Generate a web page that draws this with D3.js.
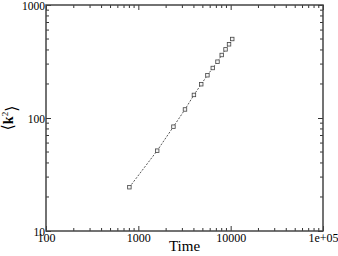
<!DOCTYPE html>
<meta charset="utf-8">
<head>
<title>k2 vs time</title>
<script src="https://d3js.org/d3.v7.min.js"></script>
<style>
  body { margin: 0; background: #fff; }
  text { font-family: "Liberation Serif", "DejaVu Serif", serif; fill: #000; }
</style>
</head>
<body>
<svg></svg>
<script>
// data
var times = [800, 1600, 2400, 3200, 4000, 4800, 5600, 6400, 7200, 8000, 8800, 9600, 10400];
var k2 = [24.4, 51.4, 83.8, 119, 160, 199, 239, 277, 315, 361, 405, 449, 500];
var xTicks = [100, 1000, 10000, 100000];
var xTickLabels = ["100", "1000", "10000", "1e+05"];
var yTicks = [10, 100, 1000];
var yTickLabels = ["10", "100", "1000"];

var W = 338, H = 256;
var margin = {top: 5, right: 15, bottom: 25, left: 46};
var width = W - margin.left - margin.right;
var height = H - margin.top - margin.bottom;

var x = d3.scaleLog().domain([100, 100000]).range([0, width]);
var y = d3.scaleLog().domain([10, 1000]).range([height, 0]);

var svg = d3.select("svg").attr("width", W).attr("height", H)
  .append("g")
  .attr("transform", "translate(" + margin.left + "," + margin.top + ")");

// minor ticks (2..9 within each decade)
function minors(dom) {
  var out = [];
  for (var d = dom[0]; d < dom[1]; d *= 10)
    for (var m = 2; m <= 9; m++) out.push(d * m);
  return out;
}
var xMinor = minors(x.domain()), yMinor = minors(y.domain());

var tickColor = "#333";
// inward ticks on all four sides
var axBottom = d3.axisBottom(x).tickValues(xTicks).tickSize(-5).tickFormat(function(d, i) { return xTickLabels[i]; });
var axTop = d3.axisTop(x).tickValues(xTicks).tickSize(-5).tickFormat("");
var axLeft = d3.axisLeft(y).tickValues(yTicks).tickSize(-5).tickFormat(function(d, i) { return yTickLabels[i]; });
var axRight = d3.axisRight(y).tickValues(yTicks).tickSize(-5).tickFormat("");

function style(g) {
  g.select(".domain").remove();
  g.selectAll(".tick line").attr("stroke", tickColor);
}

svg.append("g").attr("transform", "translate(0," + height + ")").call(axBottom).call(style)
  .selectAll("text").attr("dy", "0.9em").style("font-size", "12px").attr("y", 0);
svg.append("g").call(axTop).call(style);
svg.append("g").call(axLeft).call(style)
  .selectAll("text").style("font-size", "11.5px").attr("x", -1).attr("dy", "0.36em");
svg.append("g").attr("transform", "translate(" + width + ",0)").call(axRight).call(style);

// minor ticks
svg.append("g").selectAll("line.mx").data(xMinor).enter().append("line")
  .attr("x1", function(d) { return x(d); }).attr("x2", function(d) { return x(d); })
  .attr("y1", height).attr("y2", height - 3).attr("stroke", tickColor);
svg.append("g").selectAll("line.mxt").data(xMinor).enter().append("line")
  .attr("x1", function(d) { return x(d); }).attr("x2", function(d) { return x(d); })
  .attr("y1", 0).attr("y2", 3).attr("stroke", tickColor);
svg.append("g").selectAll("line.my").data(yMinor).enter().append("line")
  .attr("y1", function(d) { return y(d); }).attr("y2", function(d) { return y(d); })
  .attr("x1", 0).attr("x2", 3).attr("stroke", tickColor);
svg.append("g").selectAll("line.myr").data(yMinor).enter().append("line")
  .attr("y1", function(d) { return y(d); }).attr("y2", function(d) { return y(d); })
  .attr("x1", width).attr("x2", width - 3).attr("stroke", tickColor);

// frame
svg.append("rect").attr("width", width).attr("height", height)
  .attr("fill", "none").attr("stroke", "#444").attr("stroke-width", 1.5);

var pts = times.map(function(t, i) { return {t: t, v: k2[i]}; });

var line = d3.line().x(function(d) { return x(d.t); }).y(function(d) { return y(d.v); });
svg.append("path").datum(pts).attr("d", line)
  .attr("fill", "none").attr("stroke", "#444").attr("stroke-width", 0.9)
  .attr("stroke-dasharray", "2,1.5");

svg.selectAll("rect.pt").data(pts).enter().append("rect")
  .attr("class", "pt")
  .attr("x", function(d) { return x(d.t) - 1.75; })
  .attr("y", function(d) { return y(d.v) - 1.75; })
  .attr("width", 3.5).attr("height", 3.5)
  .attr("fill", "#f4f4f4").attr("stroke", "#444").attr("stroke-width", 0.8);

// axis titles
svg.append("text").attr("x", width / 2).attr("y", height + 20)
  .attr("text-anchor", "middle").style("font-size", "15px").text("Time");

var yl = svg.append("text")
  .attr("transform", "translate(-33," + (height / 2) + ") rotate(-90)")
  .attr("text-anchor", "middle").style("font-size", "14px");
yl.append("tspan").style("font-size", "16px").text("\u27E8");
yl.append("tspan").style("font-weight", "bold").text("k");
yl.append("tspan").attr("dy", "-0.6em").style("font-size", "9px").text("2");
yl.append("tspan").attr("dy", "0.6em").style("font-size", "16px").text("\u27E9");
</script>
</body>
